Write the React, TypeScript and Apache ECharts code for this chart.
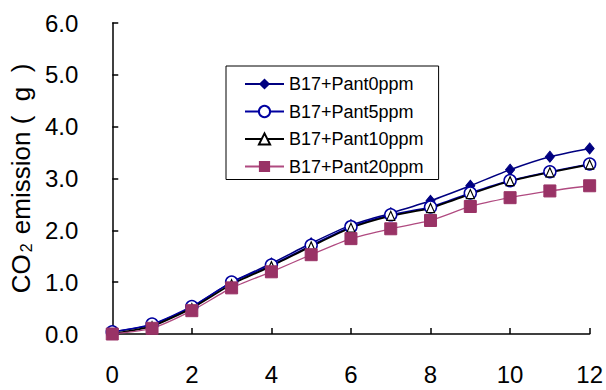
import React, { useEffect, useRef } from "react";
import * as echarts from "echarts";

const days = [0, 1, 2, 3, 4, 5, 6, 7, 8, 9, 10, 11, 12];
const pant0 = [0.04, 0.18, 0.52, 1.0, 1.36, 1.75, 2.1, 2.33, 2.57, 2.86, 3.17, 3.42, 3.58];
const pant5 = [0.04, 0.19, 0.53, 1.0, 1.33, 1.71, 2.07, 2.3, 2.45, 2.72, 2.96, 3.13, 3.28];
const pant10 = [0.0, 0.15, 0.5, 0.96, 1.31, 1.69, 2.05, 2.28, 2.43, 2.7, 2.95, 3.12, 3.27];
const pant20 = [0.0, 0.11, 0.45, 0.89, 1.2, 1.53, 1.84, 2.03, 2.19, 2.46, 2.63, 2.76, 2.86];
const seriesNames = ["B17+Pant0ppm", "B17+Pant5ppm", "B17+Pant10ppm", "B17+Pant20ppm"];

const pair = (ys: number[]) => days.map((d, i) => [d, ys[i]]);

const FONT = "Liberation Sans";

export default function App() {
  const ref = useRef<HTMLDivElement>(null);
  useEffect(() => {
    if (!ref.current) return;
    const chart = echarts.init(ref.current, null, { renderer: "svg" });
    chart.setOption({
      animation: false,
      backgroundColor: "#fff",
      grid: { left: 106, right: 16, top: 23, bottom: 56 },
      legend: {
        orient: "vertical",
        left: 226,
        top: 66,
        padding: [9, 15, 4, 18],
        borderColor: "#000",
        borderWidth: 1,
        itemWidth: 39,
        itemHeight: 14,
        itemGap: 9.5,
        itemTextGap: 7,
        textStyle: { fontFamily: FONT, fontSize: 18, color: "#000", lineHeight: 18 },
        data: seriesNames,
      },
      xAxis: {
        type: "value",
        min: 0,
        max: 12,
        interval: 2,
        axisLine: { lineStyle: { color: "#000", width: 1.5 } },
        axisTick: { inside: true, length: 6, lineStyle: { color: "#000", width: 1.5 } },
        axisLabel: { margin: 28, fontFamily: FONT, fontSize: 24, color: "#000" },
        splitLine: { show: false },
      },
      yAxis: {
        type: "value",
        min: 0,
        max: 6,
        interval: 1,
        name: "{a|CO}{s|2}{a| emission (  g  )}",
        nameLocation: "middle",
        nameRotate: 90,
        nameGap: 72,
        nameTextStyle: {
          rich: {
            a: { fontFamily: FONT, fontSize: 26, color: "#000" },
            s: { fontFamily: FONT, fontSize: 16, color: "#000", verticalAlign: "bottom", padding: [10, 2, 0, 2] },
          },
        },
        axisLine: { show: true, lineStyle: { color: "#000", width: 1.5 } },
        axisTick: { show: true, inside: true, length: 6, lineStyle: { color: "#000", width: 1.5 } },
        axisLabel: {
          margin: 34,
          fontFamily: FONT,
          fontSize: 24,
          color: "#000",
          formatter: (v: number) => v.toFixed(1),
        },
        splitLine: { show: false },
      },
      series: [
        {
          name: seriesNames[0],
          type: "line",
          data: pair(pant0),
          smooth: 0.2,
          symbol: "diamond",
          symbolSize: [9, 11],
          lineStyle: { color: "#000080", width: 1.5 },
          itemStyle: { color: "#000080", borderColor: "#000080" },
        },
        {
          name: seriesNames[1],
          type: "line",
          data: pair(pant5),
          smooth: 0.2,
          symbol: "circle",
          symbolSize: 12,
          lineStyle: { color: "#0000a0", width: 1.5 },
          itemStyle: { color: "#fff", borderColor: "#0000a0", borderWidth: 1.5 },
        },
        {
          name: seriesNames[2],
          type: "line",
          data: pair(pant10),
          smooth: 0.2,
          symbol: "triangle",
          symbolSize: [8, 9],
          lineStyle: { color: "#000", width: 1.8 },
          itemStyle: { color: "#fff", borderColor: "#000", borderWidth: 1.2 },
        },
        {
          name: seriesNames[3],
          type: "line",
          data: pair(pant20),
          smooth: 0.2,
          symbol: "rect",
          symbolSize: 12,
          lineStyle: { color: "#b04a80", width: 1.3 },
          itemStyle: { color: "#993366", borderColor: "#993366" },
        },
      ],
    });
    return () => chart.dispose();
  }, []);
  return <div ref={ref} style={{ width: 606, height: 390, position: "absolute", left: 0, top: 0 }} />;
}
